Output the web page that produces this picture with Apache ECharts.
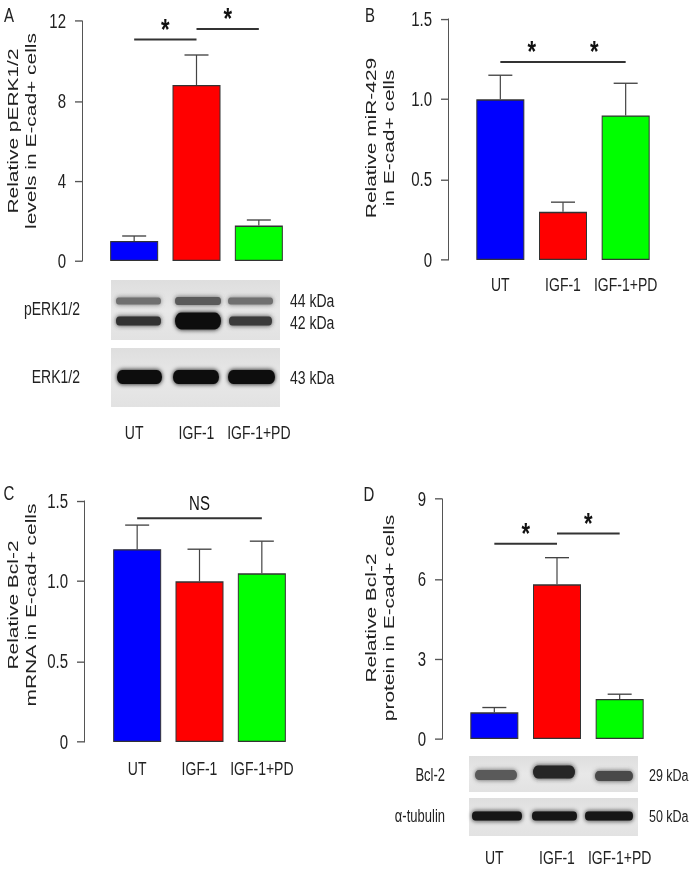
<!DOCTYPE html>
<html>
<head>
<meta charset="utf-8">
<script src="https://cdn.jsdelivr.net/npm/echarts@6/dist/echarts.min.js"></script>
<style>
html { overflow: hidden; }
html, body { margin: 0; padding: 0; background: #fff; }
body { height: 873px; }
/* the source figure is stretched vertically, so draw it short and stretch it the same way */
#main { width: 697px; height: 646px; transform: scaleY(1.35); transform-origin: 0 0; }
</style>
</head>
<body>
<div id="main"></div>
<script>
var categories = ['UT', 'IGF-1', 'IGF-1+PD'];
var barColors = ['#0000ff', '#ff0000', '#00ff00'];

// A - pERK1/2
var perkMean = [1.0, 8.8, 1.77];
var perkErr = [0.25, 1.5, 0.28];
// B - miR-429
var mirMean = [1.0, 0.30, 0.90];
var mirErr = [0.15, 0.06, 0.20];
// C - Bcl-2 mRNA
var mrnaMean = [1.2, 1.0, 1.05];
var mrnaErr = [0.15, 0.20, 0.20];
// D - Bcl-2 protein
var protMean = [1.0, 5.8, 1.5];
var protErr = [0.18, 1.0, 0.18];

// significance brackets: [from, to, height, mark]
var perkSig = [[0, 1, 11.07, '*'], [1, 2, 11.6, '*']];
var mirSig = [[0, 0.9, 1.233, '*'], [1.08, 1.97, 1.233, '*']];
var mrnaSig = [[0, 2, 1.393, 'NS']];
var protSig = [[0, 1, 7.32, '*'], [1, 2, 7.71, '*']];

var S = 1.35;
function Y(v) { return v / S; }

var SANS = "'Liberation Sans', Arial, sans-serif";
var ink = '#222';

var chart = echarts.init(document.getElementById('main'), null, {renderer: 'svg'});

var panels = [
    {left: 103, top: 21, width: 187, height: 240, offset: 21, max: 12, interval: 4, dec: 0,
        mean: perkMean, err: perkErr, sig: perkSig, labelGap: 120},
    {left: 469, top: 19, width: 188, height: 241, offset: 21, max: 1.5, interval: 0.5, dec: 1,
        mean: mirMean, err: mirErr, sig: mirSig, labelGap: 11.5},
    {left: 106, top: 501, width: 187, height: 241, offset: 22, max: 1.5, interval: 0.5, dec: 1,
        mean: mrnaMean, err: mrnaErr, sig: mrnaSig, labelGap: 12.5},
    {left: 463, top: 499, width: 188, height: 240, offset: 21, max: 9, interval: 3, dec: 0,
        mean: protMean, err: protErr, sig: protSig, labelGap: 81}
];

function errorItem(params, api) {
    var i = api.value(0),
        base = api.coord([i, api.value(1)]),
        top = api.coord([i, api.value(1) + api.value(2)]);
    return {
        type: 'group',
        children: [
            {type: 'line', shape: {x1: base[0], y1: base[1], x2: top[0], y2: top[1]}, style: {stroke: '#444', lineWidth: 1.2}},
            {type: 'line', shape: {x1: top[0] - 12, y1: top[1], x2: top[0] + 12, y2: top[1]}, style: {stroke: '#444', lineWidth: 1}}
        ]
    };
}

function sigRender(sig) {
    return function(params, api) {
        var s = sig[params.dataIndex],
            a = api.coord([s[0], s[2]]),
            b = api.coord([s[1], s[2]]),
            star = s[3] == '*';
        return {
            type: 'group',
            children: [
                {type: 'line', shape: {x1: a[0], y1: a[1], x2: b[0], y2: b[1]},
                    style: {stroke: '#333', lineWidth: 1.5}},
                {type: 'text', x: (a[0] + b[0]) / 2, y: a[1] - (star ? 8 : 11),
                    style: {text: s[3], fill: '#111', align: 'center', verticalAlign: 'middle',
                        font: star ? 'bold 22px ' + SANS : '15px ' + SANS}}
            ]
        };
    };
}

var grid = [], xAxis = [], yAxis = [], series = [];

panels.forEach(function(p, k) {
    grid.push({left: p.left, top: Y(p.top), width: p.width, height: Y(p.height)});
    xAxis.push({
        gridIndex: k, type: 'category', data: categories,
        axisLine: {show: false}, axisTick: {show: false},
        axisLabel: {interval: 0, margin: p.labelGap, color: ink, fontFamily: SANS, fontSize: 14}
    });
    yAxis.push({
        gridIndex: k, type: 'value', min: 0, max: p.max, interval: p.interval,
        position: 'left', offset: p.offset,
        axisLine: {show: true, lineStyle: {color: '#555', width: 1}},
        axisTick: {show: true, length: 7, lineStyle: {color: '#555'}},
        splitLine: {show: false},
        axisLabel: {
            margin: 16, color: ink, fontFamily: SANS, fontSize: 15,
            formatter: function(v) { return v === 0 ? '0' : v.toFixed(p.dec); }
        }
    });
    series.push({
        type: 'bar', xAxisIndex: k, yAxisIndex: k, barWidth: 48,
        data: p.mean.map(function(v, i) {
            return {value: v, itemStyle: {color: barColors[i]}};
        }),
        itemStyle: {borderColor: '#333', borderWidth: 1},
        silent: true
    });
    series.push({
        type: 'custom', xAxisIndex: k, yAxisIndex: k, z: 3,
        renderItem: errorItem,
        data: p.mean.map(function(v, i) { return [i, v, p.err[i]]; }),
        silent: true
    });
    series.push({
        type: 'custom', xAxisIndex: k, yAxisIndex: k, z: 3,
        renderItem: sigRender(p.sig),
        data: p.sig.map(function(s) { return [s[0], s[2]]; }),
        silent: true
    });
});

// rotated y titles
function yTitle(x, y, txt) {
    return {
        type: 'text', x: x, y: Y(y), rotation: Math.PI / 2,
        style: {text: txt, font: '15.5px ' + SANS, fill: ink, align: 'center',
            verticalAlign: 'middle', lineHeight: 18}
    };
}

function label(x, y, txt, align, size) {
    return {
        type: 'text', x: x, y: Y(y),
        style: {text: txt, font: (size || 13) + 'px ' + SANS, fill: ink,
            align: align || 'left', verticalAlign: 'middle'}
    };
}

// western blot strip: background + soft bands [x, y, w, h, color]
function blot(x, y, w, h, bands) {
    var els = [{
        type: 'rect', shape: {x: x, y: Y(y), width: w, height: Y(h)},
        style: {fill: {type: 'linear', x: 0, y: 0, x2: 0, y2: 1, colorStops: [
            {offset: 0, color: '#dedede'}, {offset: 0.5, color: '#e8e8e8'}, {offset: 1, color: '#e2e2e2'}]}}
    }];
    bands.forEach(function(b) {
        els.push({
            type: 'rect', shape: {x: b[0], y: Y(b[1] - b[3] / 2), width: b[2], height: Y(b[3]), r: Y(b[3]) / 2},
            style: {fill: b[4], shadowBlur: 4, shadowColor: b[4]}
        });
    });
    return {type: 'group', children: els};
}

var graphics = [
    label(9, 15, 'A', 'center', 15),
    label(370, 15, 'B', 'center', 15),
    label(9, 493, 'C', 'center', 15),
    label(369, 494, 'D', 'center', 15),

    yTitle(22, 131, 'Relative pERK1/2\nlevels in E-cad+ cells'),
    yTitle(380, 138, 'Relative miR-429\nin E-cad+ cells'),
    yTitle(22, 605, 'Relative Bcl-2\nmRNA in E-cad+ cells'),
    yTitle(380, 618, 'Relative Bcl-2\nprotein in E-cad+ cells'),

    blot(111, 280, 169, 60, [
        [116, 301, 45, 7, '#707070'], [175, 301, 46, 8, '#5a5a5a'], [228, 301, 45, 7, '#707070'],
        [116, 321, 45, 9, '#333'], [175, 321, 46, 17, '#111'], [229, 321, 43, 9, '#3a3a3a']
    ]),
    blot(111, 348, 169, 59, [
        [117, 377, 45, 14, '#111'], [173, 377, 46, 14, '#111'], [228, 377, 47, 14, '#111']
    ]),
    label(80, 309, 'pERK1/2', 'right', 14),
    label(80, 377, 'ERK1/2', 'right', 14),
    label(290, 301, '44 kDa', 'left', 14),
    label(290, 323, '42 kDa', 'left', 14),
    label(290, 378, '43 kDa', 'left', 14),

    blot(469, 756, 169, 36, [
        [475, 775, 42, 10, '#5a5a5a'], [533, 772, 42, 13, '#262626'], [595, 776, 38, 10, '#4a4a4a']
    ]),
    blot(469, 798, 169, 38, [
        [472, 816, 50, 9, '#151515'], [532, 816, 45, 9, '#151515'], [585, 816, 48, 9, '#151515']
    ]),
    label(445, 775, 'Bcl-2', 'right', 13),
    label(445, 816, '\u03b1-tubulin', 'right', 13),
    label(649, 775, '29 kDa', 'left', 12.5),
    label(649, 816, '50 kDa', 'left', 12.5)
];

chart.setOption({
    animation: false,
    backgroundColor: '#fff',
    grid: grid,
    xAxis: xAxis,
    yAxis: yAxis,
    series: series,
    graphic: {elements: graphics}
});
</script>
</body>
</html>
